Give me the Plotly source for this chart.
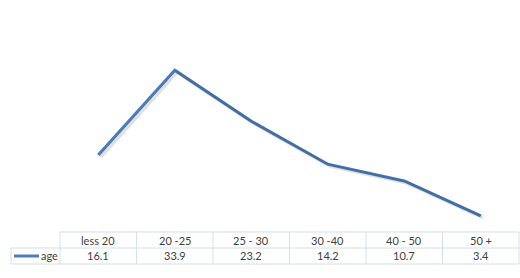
import plotly.graph_objects as go

categories = ["less 20", "20 -25", "25 - 30", "30 -40", "40 - 50", "50 +"]
age_values = [16.1, 33.9, 23.2, 14.2, 10.7, 3.4]
series_name = "age"

W, H = 520, 278
L, R, T, B = 60, 519, 41, 232   # plot area in pixels
line_color = "#4A7EBB"
grid_color = "#D5DEEC"
text_color = "#404040"
font_family = "Lato, Liberation Sans, sans-serif"

def px(x):  # pixel x -> paper
    return (x - L) / (R - L)

def py(y):  # pixel y -> paper
    return (B - y) / (B - T)

fig = go.Figure()
fig.add_trace(go.Scatter(
    x=list(range(len(categories))), y=age_values, mode="lines",
    line=dict(color="rgba(0,0,0,0.12)", width=4),
    hoverinfo="skip", showlegend=False, xaxis="x2", yaxis="y2"))
fig.add_trace(go.Scatter(
    x=list(range(len(categories))), y=age_values, mode="lines",
    name=series_name, line=dict(color=line_color, width=3), showlegend=False))

shapes = []
def hline(x0, x1, y):
    shapes.append(dict(type="line", xref="paper", yref="paper",
                       x0=px(x0), x1=px(x1), y0=py(y), y1=py(y),
                       line=dict(color=grid_color, width=1)))
def vline(x, y0, y1):
    shapes.append(dict(type="line", xref="paper", yref="paper",
                       x0=px(x), x1=px(x), y0=py(y0), y1=py(y1),
                       line=dict(color=grid_color, width=1)))

row1, row2, row3 = 232, 248, 264
hline(L, R, row1)
hline(11, R, row2)
hline(11, R, row3)
vline(11, row2, row3)
n = len(categories)
colw = (R - L) / n
for i in range(n + 1):
    vline(L + i * colw, row1, row3)

# legend line
shapes.append(dict(type="line", xref="paper", yref="paper",
                   x0=px(14), x1=px(39), y0=py(256), y1=py(256),
                   line=dict(color=line_color, width=3)))

annotations = []
for i, (c, v) in enumerate(zip(categories, age_values)):
    cx = px(L + (i + 0.5) * colw)
    annotations.append(dict(x=cx, y=py(240), xref="paper", yref="paper",
                            text=c, showarrow=False, xanchor="center", yanchor="middle",
                            font=dict(size=11, color=text_color, family=font_family)))
    annotations.append(dict(x=cx, y=py(256), xref="paper", yref="paper",
                            text=f"{v}", showarrow=False, xanchor="center", yanchor="middle",
                            font=dict(size=11, color=text_color, family=font_family)))
annotations.append(dict(x=px(39), y=py(256), xref="paper", yref="paper",
                        text=series_name, showarrow=False, xanchor="left", yanchor="middle",
                        font=dict(size=11, color=text_color, family=font_family)))

axis_common = dict(visible=False, fixedrange=True)
fig.update_layout(
    width=W, height=H,
    margin=dict(l=L, r=W - R, t=T, b=H - B, pad=0),
    paper_bgcolor="white", plot_bgcolor="white",
    xaxis=dict(range=[-0.5, n - 0.5], **axis_common),
    yaxis=dict(range=[0, 40], **axis_common),
    xaxis2=dict(range=[-0.5 - 0.03, n - 0.5 - 0.03], overlaying="x", **axis_common),
    yaxis2=dict(range=[0 + 0.35, 40 + 0.35], overlaying="y", **axis_common),
    shapes=shapes, annotations=annotations,
)
fig.write_html("out.html")
